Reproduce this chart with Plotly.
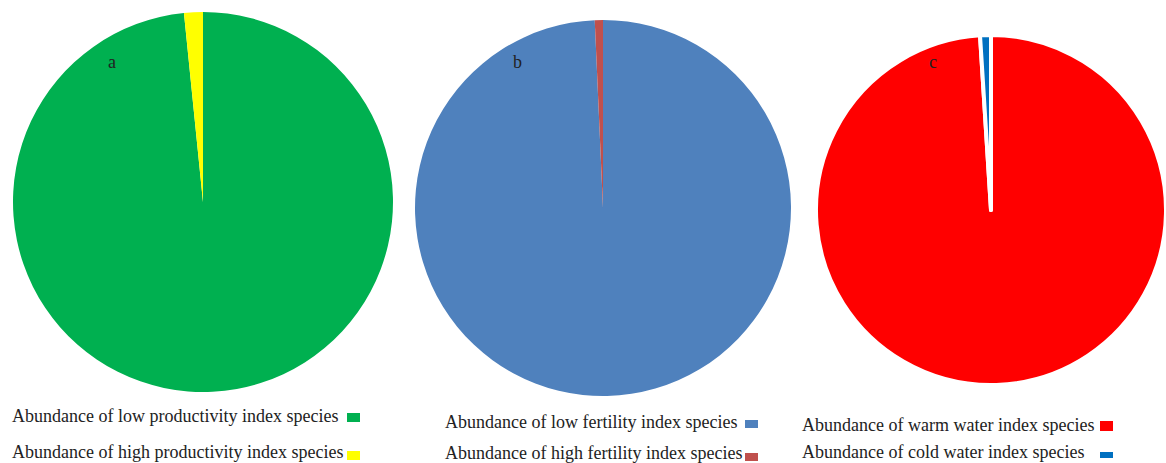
import plotly.graph_objects as go

W, H = 1166, 463

# Data (percent abundance)
labels_a = ["Abundance of low productivity index species", "Abundance of high productivity index species"]
values_a = [98.4, 1.6]
colors_a = ["#00B050", "#FFFF00"]

labels_b = ["Abundance of low fertility index species", "Abundance of high fertility index species"]
values_b = [99.3, 0.7]
colors_b = ["#4F81BD", "#C0504D"]

labels_c = ["Abundance of warm water index species", "Abundance of cold water index species"]
values_c = [99.0, 1.0]
colors_c = ["#FF0000", "#0070C0"]

panel_letters = ["a", "b", "c"]

def px_dom(cx, cy, r):
    x0 = max(0.0, (cx - r) / W)
    x1 = min(1.0, (cx + r) / W)
    y0 = max(0.0, 1 - (cy + r) / H)
    y1 = min(1.0, 1 - (cy - r) / H)
    return dict(x=[x0, x1], y=[y0, y1])

DIR = "clockwise"

fig = go.Figure()
fig.add_trace(go.Pie(labels=labels_a, values=values_a, sort=False, direction=DIR,
                     rotation=0, textinfo="none", hoverinfo="label+percent",
                     marker=dict(colors=colors_a, line=dict(color="white", width=0)),
                     domain=px_dom(203, 202, 190), showlegend=False))
fig.add_trace(go.Pie(labels=labels_b, values=values_b, sort=False, direction=DIR,
                     rotation=0, textinfo="none", hoverinfo="label+percent",
                     marker=dict(colors=colors_b, line=dict(color="white", width=0)),
                     domain=px_dom(603, 208, 188), showlegend=False))
fig.add_trace(go.Pie(labels=labels_c, values=values_c, sort=False, direction=DIR,
                     rotation=0, textinfo="none", hoverinfo="label+percent",
                     marker=dict(colors=colors_c, line=dict(color="white", width=4)),
                     domain=px_dom(991, 210, 175), showlegend=False))

annotations = []
shapes = []
font = dict(family="Liberation Serif, Times New Roman, serif", size=18, color="#222222")

# panel letters
for letter, (lx, ly) in zip(panel_letters, [(112, 62), (517, 62), (933, 62)]):
    annotations.append(dict(x=lx / W, y=1 - ly / H, xref="paper", yref="paper", text=letter,
                            showarrow=False, xanchor="center", yanchor="middle", font=font))

# legends: (labels, colors, text x, row y centers, square x, square y-ranges)
legend_specs = [
    (labels_a, colors_a, 10, [416, 452], 347, [(413, 422), (451, 460)]),
    (labels_b, colors_b, 443, [422, 453], 745, [(420, 428), (453, 461)]),
    (labels_c, colors_c, 800, [425, 452], 1100, [(421, 431), (452, 458)]),
]
for labs, cols, tx, rows, sx, sq in legend_specs:
    for lab, col, ry, (y0, y1) in zip(labs, cols, rows, sq):
        annotations.append(dict(x=tx / W, y=1 - ry / H, xref="paper", yref="paper", text=lab,
                                showarrow=False, xanchor="left", yanchor="middle", font=font))
        shapes.append(dict(type="rect", xref="paper", yref="paper",
                           x0=sx / W, x1=(sx + 13) / W, y0=1 - y1 / H, y1=1 - y0 / H,
                           fillcolor=col, line=dict(width=0)))

fig.update_layout(width=W, height=H, margin=dict(l=0, r=0, t=0, b=0),
                  paper_bgcolor="white", plot_bgcolor="white",
                  annotations=annotations, shapes=shapes)
fig.write_html("out.html", config={"displayModeBar": False},
               post_script="document.body.style.margin='0';document.body.style.padding='0';document.body.style.overflow='hidden';")
